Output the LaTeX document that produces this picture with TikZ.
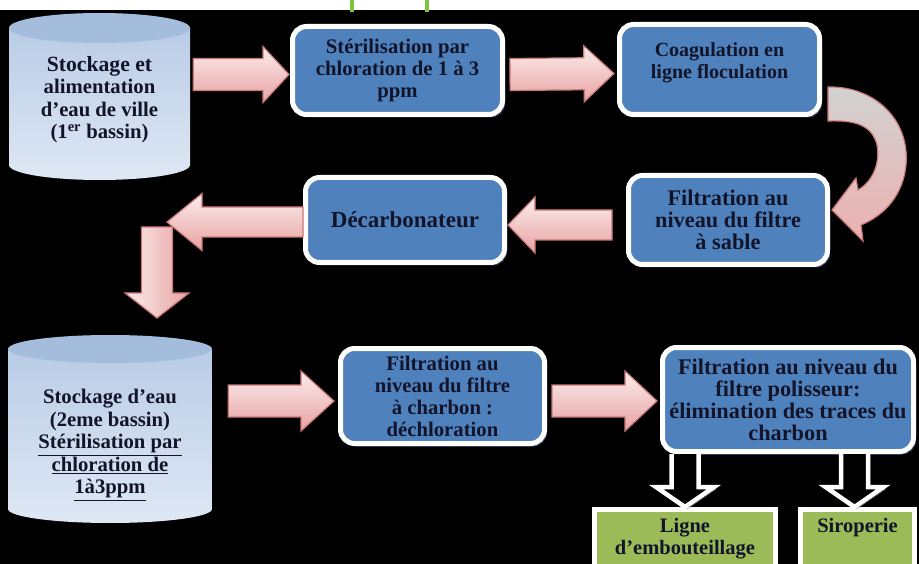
\documentclass[tikz,border=0pt]{standalone}
\usepackage{fontspec}
\setmainfont{Liberation Serif}
\usetikzlibrary{calc,shadows}

\definecolor{boxblue}{HTML}{4F81BD}
\definecolor{ink}{HTML}{12142A}
\definecolor{arrowlight}{HTML}{FCEDED}
\definecolor{arrowpink}{HTML}{E8A2A2}
\definecolor{arrowedge}{HTML}{C97878}
\definecolor{drumtopc}{HTML}{A5BDDD}
\definecolor{drumhi}{HTML}{B9CCE6}
\definecolor{drumlo}{HTML}{DFE8F4}
\definecolor{leaf}{HTML}{9BBB59}
\definecolor{titlegreen}{HTML}{7DC242}
\definecolor{shadowc}{HTML}{2F3F58}
\definecolor{curvegrey}{HTML}{D2D2D2}
\definecolor{curvemid}{HTML}{DCC8C8}
\definecolor{curvepink}{HTML}{EDB0B0}

\tikzset{
  fsz/.style={font=\fontsize{#1}{22}\selectfont\bfseries},
  flowbox/.style={draw=white, line width=5pt, rounded corners=14pt, fill=boxblue,
    text=ink, align=center, inner sep=0pt, fsz=20.7,
    drop shadow={shadow xshift=2.5pt, shadow yshift=-3pt, fill=shadowc, opacity=1}},
  leafbox/.style={draw=white, line width=5pt, fill=leaf, inner sep=0pt},
  leaftext/.style={text=ink, align=center, inner sep=0pt,
    font=\fontsize{20.5}{21.5}\selectfont\bfseries},
  drumtext/.style={text=ink, align=center, inner sep=0pt,
    font=\fontsize{20.7}{22.5}\selectfont\bfseries},
  drumbody/.style={top color=drumhi, bottom color=drumlo},
  drumtop/.style={fill=drumtopc},
  pinkarrow/.style={top color=arrowlight, bottom color=arrowpink, draw=arrowedge,
    line width=1.2pt, line join=miter},
  pinkdown/.style={left color=arrowlight, right color=arrowpink, draw=arrowedge,
    line width=1.2pt, line join=miter},
  hollow/.style={draw=white, line width=4.5pt, fill=black, line join=miter,
    preaction={draw=black!45, transform canvas={shift={(2pt,-2pt)}}}},
}

% storage tank: name, centre x, top y, bottom y, x radius, y radius, text y, text
\newcommand\drum[8]{%
  \path[drumbody] (#2-#5,#3+#6) -- (#2-#5,#4-#6)
     arc[start angle=180, end angle=360, x radius=#5pt, y radius=#6pt]
     -- (#2+#5,#3+#6) -- cycle;
  \path[drumtop] (#2,#3+#6) ellipse[x radius=#5pt, y radius=#6pt];
  \node[drumtext, minimum width=2*#5] (#1) at (#2,#7) {#8};
}

% block arrow: [style] tail, tip, half body width, half head width, head length
\newcommand\blockarrow[6][pinkarrow]{%
  \coordinate (ba-neck) at ($(#3)!#6!(#2)$);
  \path[#1] ($(#2)!#4!90:(#3)$) -- ($(ba-neck)!#4!90:(#3)$)
    -- ($(ba-neck)!#5!90:(#3)$) -- (#3) -- ($(ba-neck)!#5!-90:(#3)$)
    -- ($(ba-neck)!#4!-90:(#3)$) -- ($(#2)!#4!-90:(#3)$) -- cycle;
}

% outlined downward arrow: top coordinate, tip coordinate
\newcommand\hollowdown[2]{%
  \draw[hollow] ($(#1)+(-13.5,0)$) -- ($(#2)+(-13.5,-20)$) -- ($(#2)+(-29,-20)$)
    -- (#2) -- ($(#2)+(29,-20)$) -- ($(#2)+(13.5,-20)$) -- ($(#1)+(13.5,0)$);
}

\begin{document}
\begin{tikzpicture}[x=1pt, y=-1pt]
\useasboundingbox (0,0) rectangle (919,564);
\clip (0,0) rectangle (919,564);
\fill[white] (0,0) rectangle (919,564);
\fill[black] (0,10) rectangle (919,564);
\fill[titlegreen] (350,0) rectangle (354,12);
\fill[titlegreen] (425,0) rectangle (429,12);

% tanks
\drum{cyl1}{99.5}{13}{180}{90.5}{15}{99.5}{\fontsize{21.7}{22.5}\selectfont Stockage et\\alimentation\\d’eau de ville\\(1\textsuperscript{er} bassin)}
\drum{cyl2}{110}{335}{523}{102}{14}{445}{Stockage d’eau\\(2eme bassin)\\\underline{Stérilisation par}\\\underline{chloration de}\\\underline{1à3ppm}}

% treatment steps
\node[flowbox, minimum width=210, minimum height=88] (b2) at (397.5,70.5)
  {Stérilisation par\\chloration de 1 à 3\\ppm};
\node[flowbox, fsz=20, minimum width=200, minimum height=90] (b3) at (719.5,69.5)
  {Coagulation en\\ligne floculation\\[-4pt]\mbox{}};
\node[flowbox, fsz=22.3, minimum width=199, minimum height=89] (b4) at (728,220)
  {Filtration au\\niveau du filtre\\à sable};
\node[flowbox, fsz=23, minimum width=199, minimum height=85] (b5) at (405,220)
  {Décarbonateur};
\node[flowbox, minimum width=204, minimum height=95] (b6) at (442.5,396)
  {Filtration au\\niveau du filtre\\à charbon :\\déchloration};
\node[flowbox, fsz=22.3, minimum width=251, minimum height=104] (b7) at (788,399.5)
  {Filtration au niveau du\\filtre polisseur:\\élimination des traces du\\charbon};

% outlets
\node[leafbox, minimum width=181, minimum height=100, anchor=north] (gA) at (685,507) {};
\node[leaftext] (gAt) at ($(gA.north)+(0,31.5)$) {Ligne\\d’embouteillage};
\node[leafbox, minimum width=114, minimum height=100, anchor=north] (gB) at (857.5,507) {};
\node[leaftext] (gBt) at ($(gB.north)+(0,21)$) {Siroperie};

% straight flow arrows
\coordinate (a1s) at ($(cyl1.east |- b2.west)+(3,4)$);
\coordinate (a1e) at ($(b2.west)+(-1,4)$);
\blockarrow{a1s}{a1e}{16pt}{28pt}{26pt}

\coordinate (a2s) at ($(b2.east)+(5,4)$);
\coordinate (a2e) at ($(b3.west)+(-3,4)$);
\blockarrow{a2s}{a2e}{16pt}{28pt}{30pt}

\coordinate (a3s) at ($(b4.west)+(-14,5)$);
\coordinate (a3e) at ($(b5.east)+(1,5)$);
\blockarrow{a3s}{a3e}{15pt}{28pt}{27pt}

\coordinate (bend) at (157,222);
\coordinate (a4s) at (b5.west |- bend);
\coordinate (a4e) at ($(bend)+(10,0)$);
\blockarrow{a4s}{a4e}{15pt}{28.5pt}{35pt}

\coordinate (a5s) at ($(bend)+(0,5)$);
\coordinate (a5e) at (157,318);
\blockarrow[pinkdown]{a5s}{a5e}{15.5pt}{32pt}{25pt}

\coordinate (a6s) at ($(cyl2.east |- b6.west)+(16,5)$);
\coordinate (a6e) at ($(b6.west)+(-4,5)$);
\blockarrow{a6s}{a6e}{16pt}{30pt}{33pt}

\coordinate (a7s) at ($(b6.east)+(5,5)$);
\coordinate (a7e) at ($(b7.west)+(-3,1.5)$);
\blockarrow{a7s}{a7e}{16pt}{30pt}{32pt}

% curved arrow from coagulation down to the sand filter
\begin{scope}[shift={(b3.east)}]
  \path[draw=arrowedge, line width=1.2pt, line join=miter,
        top color=curvegrey, middle color=curvemid, bottom color=curvepink]
    (6,17.5) .. controls (53,16.5) and (88,50.5) .. (84,95.5)
    .. controls (81,125.5) and (63,145.5) .. (39,155.5)
    -- (41,171.5) -- (10,140.5) -- (34,108.5) -- (36,120.5)
    .. controls (53,110.5) and (58,90.5) .. (55,75.5)
    .. controls (50,55.5) and (33,50.5) .. (6,51.5) -- cycle;
\end{scope}

% outlined arrows to the outlets
\coordinate (hAe) at (gA.north);
\coordinate (hAs) at (hAe |- b7.south);
\hollowdown{hAs}{hAe}
\coordinate (hBe) at ($(gB.north)+(-3,0)$);
\coordinate (hBs) at (hBe |- b7.south);
\hollowdown{hBs}{hBe}
\end{tikzpicture}
\end{document}
